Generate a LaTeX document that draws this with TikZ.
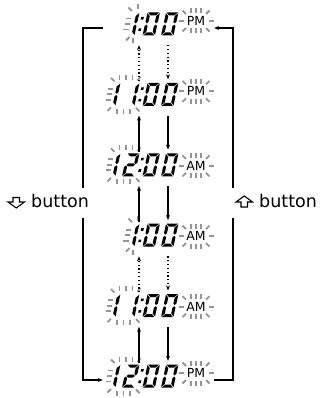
\documentclass[tikz,border=0pt]{standalone}
\usepackage{fontspec}
\setmainfont{DejaVu Sans}
\usetikzlibrary{arrows.meta}
\tikzset{
  ray/.style={draw=black!42, line width=1.8pt},
  conn/.style={line width=1.1pt, draw=black},
  arr/.style={conn, -{Stealth[length=5pt,width=4pt]}},
  dots/.style={dash pattern=on 1.2pt off 2.6pt},
  ampm/.style={font=\fontsize{12.5}{13}\selectfont, inner sep=0pt},
  lbl/.style={font=\fontsize{17.5}{18}\selectfont, inner sep=0pt},
  hollow/.style={draw=black, line width=1.1pt, line join=miter, fill=white},
  rowbox/.style={draw=none, inner sep=0pt, minimum width=111pt, minimum height=34pt},
}
% seven-segment pieces (local coords, y up)
\newcommand\segA{\fill (0.6,23)--(11.8,23)--(8.8,20)--(3.6,20)--cycle;}
\newcommand\segD{\fill (0.6,0)--(11.8,0)--(8.8,3)--(3.6,3)--cycle;}
\newcommand\segF{\fill (0,22.4)--(3,19.4)--(3,13.6)--(1.5,12.1)--(0,13.6)--cycle;}
\newcommand\segE{\fill (0,0.6)--(3,3.6)--(3,9.4)--(1.5,10.9)--(0,9.4)--cycle;}
\newcommand\segB{\fill (12.4,22.4)--(9.4,19.4)--(9.4,13.6)--(10.9,12.1)--(12.4,13.6)--cycle;}
\newcommand\segC{\fill (12.4,0.6)--(9.4,3.6)--(9.4,9.4)--(10.9,10.9)--(12.4,9.4)--cycle;}
\newcommand\segG{\fill (2.1,11.5)--(3.6,13)--(8.8,13)--(10.3,11.5)--(8.8,10)--(3.6,10)--cycle;}
\newcommand\dzero{\segA\segB\segC\segD\segE\segF}
\newcommand\done{\segB\segC}
\newcommand\dtwo{\segA\segB\segG\segE\segD}
\newcommand\dg[3]{\begin{scope}[shift={(#1,#2)},y=1pt,xslant=0.22]#3\end{scope}}
\newcommand\colonmk[2]{\begin{scope}[shift={(#1,#2)},y=1pt,xslant=0.22]
  \fill (-1.3,4.5)--(1.3,4.5)--(1.3,7.1)--(-1.3,7.1)--cycle;
  \fill (-1.3,15.9)--(1.3,15.9)--(1.3,18.5)--(-1.3,18.5)--cycle;\end{scope}}
\newcommand\lcdrow[3]{% #1 centre y, #2 first hour digit, #3 second hour digit
  \dg{103}{#1+11.5}{#2}\dg{122}{#1+11.5}{#3}\colonmk{138.5}{#1+11.5}%
  \dg{142.5}{#1+11.5}{\dzero}\dg{161}{#1+11.5}{\dzero}}
% blinking rays
\newcommand\lrays[2]{\begin{scope}[shift={(#1,#2)}]
  \draw[ray] (-17.5,0)--(-12.5,0); \draw[ray] (12.5,0)--(17.5,0);
  \foreach \u in {-5,0,5}{\draw[ray] (\u,-12.5)--(\u,-7.5); \draw[ray] (\u,7.5)--(\u,12.5);}
  \draw[ray] (-10,-7)--(-13.5,-10.5); \draw[ray] (10,-7)--(13.5,-10.5);
  \draw[ray] (-10,7)--(-13.5,10.5); \draw[ray] (10,7)--(13.5,10.5);\end{scope}}
\newcommand\hraysTwo[1]{\begin{scope}[shift={(0,#1)}]
  \draw[ray] (108.2,-5.5)--(113.2,-5.5); \draw[ray] (107,0)--(112,0); \draw[ray] (105.8,5.5)--(110.8,5.5);
  \draw[ray] (114.5,-13)--(111,-16.5);
  \foreach \u in {119.5,126,132.5}{\draw[ray] (\u,-19.5)--(\u,-14.5);}
  \draw[ray] (137.5,-14)--(140.5,-17.5);
  \draw[ray] (111,13)--(107.5,16.5);
  \foreach \u in {117,123.5,130}{\draw[ray] (\u,14.5)--(\u,19.5);}
  \draw[ray] (136,13.5)--(139.5,17);\end{scope}}
\newcommand\hraysOne[1]{\begin{scope}[shift={(0,#1)}]
  \draw[ray] (125.7,-5.5)--(131.2,-5.5); \draw[ray] (124.5,0)--(130,0); \draw[ray] (123.3,5.5)--(128.8,5.5);
  \draw[ray] (132,-13)--(128.5,-16.5);
  \draw[ray] (138,-19.5)--(138,-14.5);
  \draw[ray] (129.5,13)--(126,16.5);
  \draw[ray] (133,14.5)--(133,19.5);\end{scope}}
\begin{document}
\begin{tikzpicture}[x=1pt,y=-1pt]
\useasboundingbox (0,0) rectangle (321,398);
% displays
\lcdrow{24}{}{\done}      \hraysOne{24}   \lrays{196}{21}   \node[ampm] (t1) at (196,21) {PM};
\lcdrow{94.4}{\done}{\done} \hraysTwo{94.4} \lrays{196}{91.4} \node[ampm] (t2) at (196,91.4) {PM};
\lcdrow{164.8}{\done}{\dtwo}\hraysTwo{164.8}\lrays{196}{165.8}\node[ampm] (t3) at (196,165.8) {AM};
\lcdrow{235.2}{}{\done}     \hraysOne{235.2}\lrays{196}{236.2}\node[ampm] (t4) at (196,236.2) {AM};
\lcdrow{305.6}{\done}{\done}\hraysTwo{305.6}\lrays{196}{306.6}\node[ampm] (t5) at (196,306.6) {AM};
\lcdrow{376}{\done}{\dtwo}  \hraysTwo{376}  \lrays{196}{373}  \node[ampm] (t6) at (196,373) {PM};
% row boxes used as connector ends
\node[rowbox] (r1) at (158.5,28) {};
\node[rowbox] (r2) at (158.5,98.4) {};
\node[rowbox] (r3) at (158.5,168.8) {};
\node[rowbox] (r4) at (158.5,239.2) {};
\node[rowbox] (r5) at (158.5,309.6) {};
\node[rowbox] (r6) at (158.5,380) {};
\coordinate (upx) at (139,0);
\coordinate (dnx) at (168,0);
\foreach \a/\b/\s in {r1/r2/dots, r2/r3/solid, r3/r4/solid, r4/r5/dots, r5/r6/solid}{
  \draw[arr,\s] (\b.north -| upx) -- (\a.south -| upx);
  \draw[arr,\s,shorten >=2pt] (\a.south -| dnx) -- (\b.north -| dnx);
}
% labels
\draw[hollow] (13,197.5)--(19.5,197.5)--(19.5,202)--(24.5,202)--(16.25,208)--(8,202)--(13,202)--cycle;
\node[lbl, anchor=base west] (dn) at (31,207.5) {button};
\draw[hollow] (241,207)--(247.5,207)--(247.5,202)--(252.5,202)--(244.25,196)--(236,202)--(241,202)--cycle;
\node[lbl, anchor=base west] (up) at (259,207.5) {button};
\coordinate (lgT) at (83,188);
\coordinate (lgB) at (83,218);
\coordinate (rgT) at (233,188);
\coordinate (rgB) at (233,218);
\draw[conn] (r1.west) -| (lgT);
\draw[arr] (lgB) |- (r6.west);
\draw[conn] (r6.east) -| (rgB);
\draw[arr] (rgT) |- (r1.east);
\end{tikzpicture}
\end{document}
